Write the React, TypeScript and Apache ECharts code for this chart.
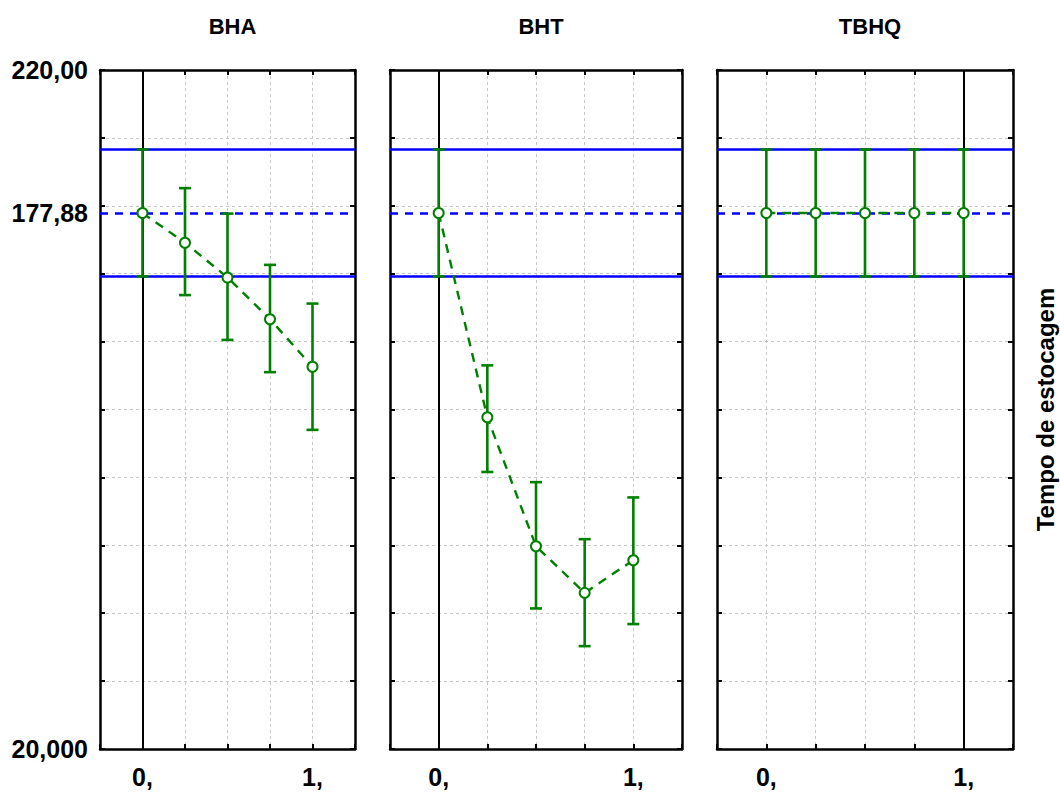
import React, { useEffect, useRef } from "react";
import * as echarts from "echarts";

const panelNames = ["BHA", "BHT", "TBHQ"];
const xLevels = [0, 0.25, 0.5, 0.75, 1];
const xTickLabels = ["0,", "1,"];
const xTickValues = [0, 1];
const yTickValues = [20, 177.88, 220];
const yTickLabels = ["20,000", "177,88", "220,00"];

const bhaMean = [177.88, 169.1, 158.9, 146.6, 132.6];
const bhaLow = [159.2, 153.7, 140.5, 131.0, 114.0];
const bhaHigh = [196.6, 185.2, 177.7, 162.6, 151.2];

const bhtMean = [177.88, 117.7, 79.7, 66.0, 75.6];
const bhtLow = [159.2, 101.6, 61.4, 50.3, 56.8];
const bhtHigh = [196.6, 133.0, 98.6, 81.8, 94.1];

const tbhqMean = [177.88, 177.88, 177.88, 177.88, 177.88];
const tbhqLow = [159.2, 159.2, 159.2, 159.2, 159.2];
const tbhqHigh = [196.6, 196.6, 196.6, 196.6, 196.6];

const currentLevels = [0, 0, 1];
const refHigh = 196.6;
const refCenter = 177.88;
const refLow = 159.2;
const yAxisTitle = "Tempo de estocagem";

const means = [bhaMean, bhtMean, tbhqMean];
const lows = [bhaLow, bhtLow, tbhqLow];
const highs = [bhaHigh, bhtHigh, tbhqHigh];

const GREEN = "#008000";
const BLUE = "#0000ff";
const GRIDC = "#c8c8c8";
const FONT = "'Liberation Sans', Arial, sans-serif";

const gridBoxes = [
  { left: 100, width: 255 },
  { left: 390, width: 292 },
  { left: 717, width: 296 },
];
const TOP = 70;
const HEIGHT = 679;

export default function App() {
  const ref = useRef<HTMLDivElement>(null);
  useEffect(() => {
    if (!ref.current) return;
    const chart = echarts.init(ref.current, undefined, { renderer: "svg" });

    const grid: any[] = [];
    const xAxis: any[] = [];
    const yAxis: any[] = [];
    const series: any[] = [];
    const title: any[] = [];

    panelNames.forEach((name, i) => {
      const g = gridBoxes[i];
      grid.push({ left: g.left, width: g.width, top: TOP, height: HEIGHT, containLabel: false });
      title.push({
        text: name,
        left: g.left + g.width / 2,
        top: 10,
        textAlign: "center",
        textStyle: { fontFamily: FONT, fontSize: 22, fontWeight: "bold", color: "#000" },
      });
      const common = {
        type: "value",
        gridIndex: i,
        min: -0.25,
        max: 1.25,
        interval: 0.25,
        axisLine: { show: true, onZero: false, lineStyle: { color: "#000", width: 2.5 } },
        axisTick: { show: true, inside: true, length: 5, lineStyle: { color: "#000", width: 2 } },
      };
      xAxis.push({
        ...common,
        position: "bottom",
        axisLabel: {
          show: true,
          customValues: xTickValues,
          formatter: (v: number) => {
            const k = xTickValues.indexOf(v);
            return k >= 0 ? xTickLabels[k] : "";
          },
          margin: 15,
          fontFamily: FONT,
          fontSize: 25,
          fontWeight: "bold",
          color: "#000",
        },
        splitLine: { show: true, lineStyle: { color: GRIDC, type: [3, 3], width: 1 } },
      });
      xAxis.push({
        ...common,
        position: "top",
        axisLabel: { show: false },
        splitLine: { show: false },
      });
      const ycommon = {
        type: "value",
        gridIndex: i,
        min: 20,
        max: 220,
        interval: 20,
        axisLine: { show: true, onZero: false, lineStyle: { color: "#000", width: 2.5 } },
        axisTick: { show: true, inside: true, length: 5, lineStyle: { color: "#000", width: 2 } },
      };
      yAxis.push({
        ...ycommon,
        position: "left",
        axisLabel:
          i === 0
            ? {
                show: true,
                customValues: yTickValues,
                formatter: (v: number) => {
                  const k = yTickValues.indexOf(v);
                  return k >= 0 ? yTickLabels[k] : "";
                },
                margin: 12,
                fontFamily: FONT,
                fontSize: 25,
                fontWeight: "bold",
                color: "#000",
              }
            : { show: false },
        splitLine: { show: true, lineStyle: { color: GRIDC, type: [3, 3], width: 1 } },
      });
      yAxis.push({
        ...ycommon,
        position: "right",
        axisLabel: { show: false },
        splitLine: { show: false },
        ...(i === 2
          ? {
              name: yAxisTitle,
              nameLocation: "middle",
              nameRotate: 90,
              nameGap: 20,
              nameTextStyle: { fontFamily: FONT, fontSize: 24, fontWeight: "bold", color: "#000" },
            }
          : {}),
      });

      const xIdx = i * 2;
      const yIdx = i * 2;

      // reference lines
      series.push({
        type: "line",
        xAxisIndex: xIdx,
        yAxisIndex: yIdx,
        data: [],
        silent: true,
        z: 1,
        markLine: {
          silent: true,
          symbol: "none",
          z: 1,
          label: { show: false },
          data: [
            { yAxis: refHigh, lineStyle: { color: BLUE, width: 2.5, type: "solid" } },
            { yAxis: refLow, lineStyle: { color: BLUE, width: 2.5, type: "solid" } },
            { yAxis: refCenter, lineStyle: { color: BLUE, width: 2.5, type: [8, 7] } },
            { xAxis: currentLevels[i], lineStyle: { color: "#000", width: 2, type: "solid" } },
          ],
        },
      });

      // error bars
      series.push({
        type: "custom",
        xAxisIndex: xIdx,
        yAxisIndex: yIdx,
        z: 3,
        data: xLevels.map((x, k) => [x, lows[i][k], highs[i][k]]),
        encode: { x: 0, y: [1, 2] },
        renderItem: (params: any, api: any) => {
          const x = api.value(0);
          const lo = api.coord([x, api.value(1)]);
          const hi = api.coord([x, api.value(2)]);
          const hw = 6;
          const st = { stroke: GREEN, lineWidth: 2.6, fill: null };
          return {
            type: "group",
            children: [
              { type: "line", shape: { x1: lo[0], y1: lo[1], x2: hi[0], y2: hi[1] }, style: st },
              { type: "line", shape: { x1: lo[0] - hw, y1: lo[1], x2: lo[0] + hw, y2: lo[1] }, style: st },
              { type: "line", shape: { x1: hi[0] - hw, y1: hi[1], x2: hi[0] + hw, y2: hi[1] }, style: st },
            ],
          };
        },
      });

      // means
      series.push({
        type: "line",
        xAxisIndex: xIdx,
        yAxisIndex: yIdx,
        data: xLevels.map((x, k) => [x, means[i][k]]),
        symbol: "emptyCircle",
        symbolSize: 10,
        showSymbol: true,
        lineStyle: { color: GREEN, width: 2.4, type: [9, 7] },
        itemStyle: { color: GREEN, borderColor: GREEN, borderWidth: 1.2 },
        z: 5,
      });
    });

    chart.setOption({
      animation: false,
      backgroundColor: "#ffffff",
      title,
      grid,
      xAxis,
      yAxis,
      series,
    });
    return () => chart.dispose();
  }, []);

  return (
    <div
      ref={ref}
      style={{ position: "fixed", left: 0, top: 0, width: 1060, height: 792, background: "#fff" }}
    />
  );
}
